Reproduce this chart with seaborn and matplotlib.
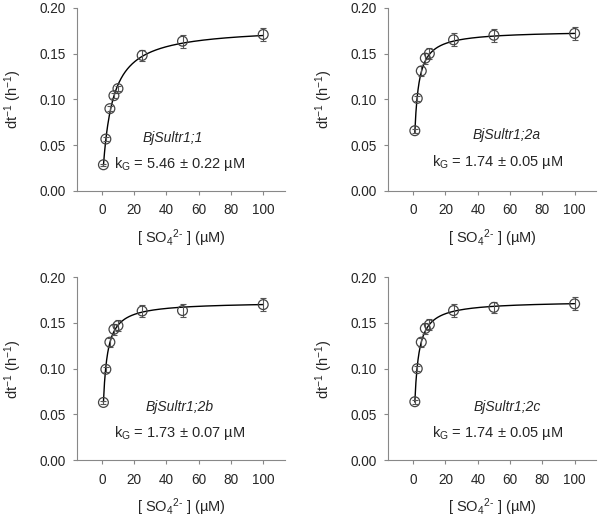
import numpy as np
import pandas as pd
import matplotlib.pyplot as plt
import seaborn as sns

# substrate concentrations (µM)
conc = [1, 2.5, 5, 7.5, 10, 25, 50, 100]

names = ["BjSultr1;1", "BjSultr1;2a", "BjSultr1;2b", "BjSultr1;2c"]
kg_text = ["5.46 ± 0.22", "1.74 ± 0.05", "1.73 ± 0.07", "1.74 ± 0.05"]

# measured growth rates dt^-1 (h^-1)
rate_11 = [0.0285, 0.0566, 0.0898, 0.104, 0.1117, 0.148, 0.1635, 0.1708]
rate_2a = [0.0657, 0.101, 0.131, 0.145, 0.150, 0.165, 0.170, 0.172]
rate_2b = [0.0631, 0.0993, 0.129, 0.143, 0.147, 0.163, 0.1635, 0.170]
rate_2c = [0.0639, 0.100, 0.129, 0.144, 0.148, 0.1635, 0.167, 0.1708]

err_11 = [0.001, 0.002, 0.003, 0.003, 0.003, 0.0064, 0.007, 0.007]
err_2a = [0.002, 0.003, 0.005, 0.006, 0.006, 0.007, 0.007, 0.007]
err_2b = [0.002, 0.003, 0.005, 0.006, 0.006, 0.007, 0.007, 0.007]
err_2c = [0.002, 0.003, 0.005, 0.006, 0.006, 0.007, 0.006, 0.007]

# fitted parameters (Michaelis-Menten)
vmax = [0.179, 0.175, 0.173, 0.174]
kg = [5.46, 1.74, 1.73, 1.74]

rates = [rate_11, rate_2a, rate_2b, rate_2c]
errs = [err_11, err_2a, err_2b, err_2c]

# label positions (data coords)
name_pos = [(44, 0.058), (58, 0.061), (48, 0.058), (58, 0.058)]
kg_pos = [(48, 0.0295), (52, 0.0317), (48, 0.0295), (52, 0.0295)]

sns.set_style("white")
plt.rcParams['font.family'] = ['Liberation Sans', 'DejaVu Sans']
plt.rcParams['mathtext.fontset'] = 'custom'
plt.rcParams['mathtext.rm'] = 'Liberation Sans'
plt.rcParams['mathtext.it'] = 'Liberation Sans:italic'

fig = plt.figure(figsize=(6, 5.2), dpi=100)
lefts = [0.128, 0.647, 0.128, 0.647]
bottoms = [0.633, 0.633, 0.115, 0.115]

xlab = "[ SO$_\\mathregular{4}$$^\\mathregular{2\u2010}$ ] (µM)"

for i in range(4):
    ax = fig.add_axes([lefts[i], bottoms[i], 0.347, 0.352])
    xs = np.linspace(conc[0], conc[-1], 300)
    fit = pd.DataFrame({"x": xs, "y": vmax[i] * xs / (kg[i] + xs)})
    sns.lineplot(data=fit, x="x", y="y", ax=ax, color="black", lw=1.0)
    ax.errorbar(conc, rates[i], yerr=errs[i], fmt="none", ecolor="#555555",
                elinewidth=0.8, capsize=2.5, capthick=0.8, zorder=3)
    sns.scatterplot(x=conc, y=rates[i], ax=ax, s=50, marker="o",
                    facecolor="none", edgecolor="#444444", linewidth=0.9,
                    zorder=4)
    ax.set_xlim(-15.5, 113.5)
    ax.set_ylim(0, 0.20)
    ax.set_xticks([0, 20, 40, 60, 80, 100])
    ax.set_yticks([0, 0.05, 0.10, 0.15, 0.20])
    ax.set_yticklabels(["0.00", "0.05", "0.10", "0.15", "0.20"])
    for s in ["top", "right"]:
        ax.spines[s].set_visible(False)
    for s in ["left", "bottom"]:
        ax.spines[s].set_color("#888888")
        ax.spines[s].set_linewidth(0.8)
    ax.tick_params(axis="both", direction="out", length=3, width=0.8,
                   color="#888888", labelsize=9.8, left=True, bottom=True)
    ax.tick_params(axis="x", pad=6)
    ax.tick_params(axis="y", pad=5)
    ax.set_xlabel(xlab, fontsize=10.5, labelpad=7)
    ax.set_ylabel(r"dt$^\mathregular{-1}$ (h$^\mathregular{-1}$)", fontsize=10.5, labelpad=11)
    ax.text(name_pos[i][0], name_pos[i][1], names[i], style="italic",
            ha="center", va="center", fontsize=10)
    ax.text(kg_pos[i][0], kg_pos[i][1], "k$_\\mathregular{G}$ = " + kg_text[i] + " µM",
            ha="center", va="center", fontsize=10.5)

fig.savefig("out.png", dpi=100)
